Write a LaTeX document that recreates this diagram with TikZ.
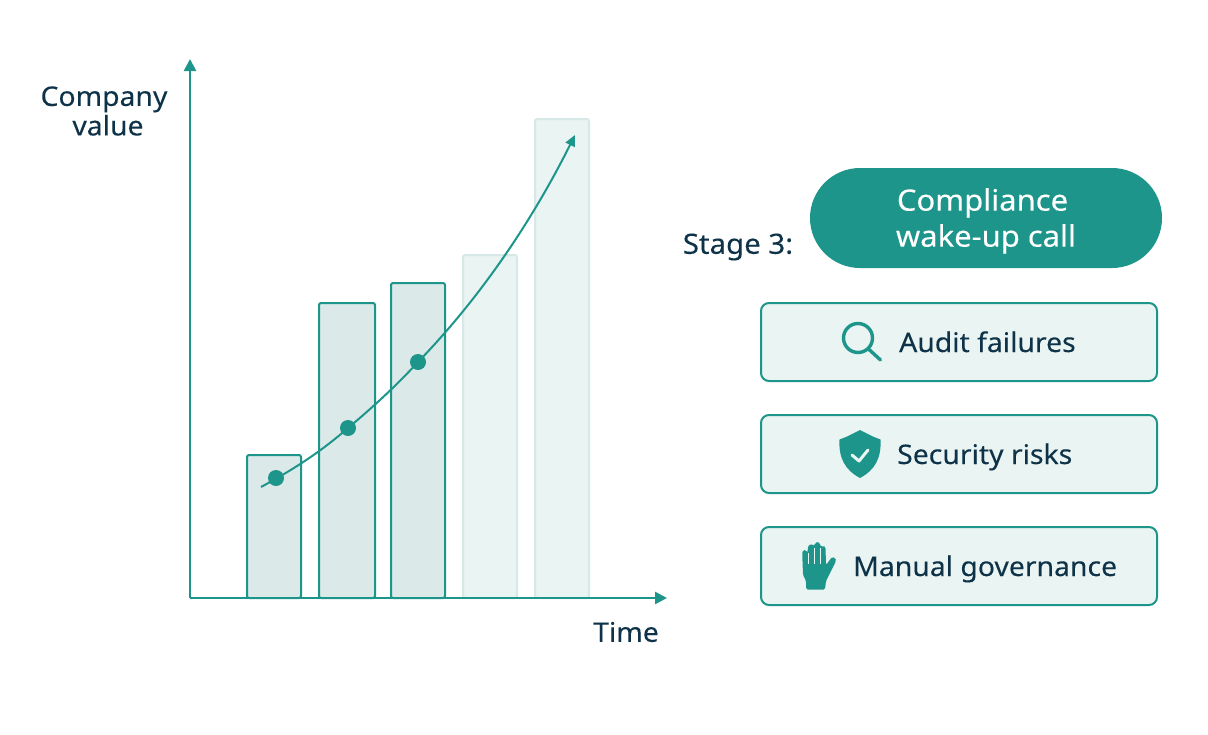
\documentclass[tikz,border=0pt]{standalone}
\usepackage{fontspec}
\setmainfont[FakeStretch=1.05,FakeBold=0.15]{Noto Sans}
\usetikzlibrary{arrows.meta,calc}
\definecolor{teal1}{HTML}{1E958B}
\definecolor{barfill}{HTML}{DBE9E8}
\definecolor{fadefill}{HTML}{EAF4F2}
\definecolor{fadeline}{HTML}{D6E9E7}
\definecolor{ink}{HTML}{0E3349}
\tikzset{
  txt/.style={text=ink,font=\fontsize{27}{30}\selectfont,align=center,inner sep=0pt},
  axisline/.style={draw=teal1,line width=2.6pt,-{Triangle[length=12pt,width=12pt]}},
  solidbar/.style={draw=teal1,fill=barfill,line width=2pt,rounded corners=2pt},
  fadebar/.style={draw=fadeline,fill=fadefill,line width=2pt,rounded corners=2pt},
  card/.style={draw=teal1,fill=fadefill,line width=2pt,rounded corners=8pt},
  dot/.style={circle,fill=teal1,minimum size=16pt,inner sep=0pt},
}
\begin{document}
\begin{tikzpicture}[x=1pt,y=-1pt]
\useasboundingbox (0,0) rectangle (1208,734);
% bars
\draw[solidbar] (247,598) rectangle (301,455);
\draw[solidbar] (319,598) rectangle (375,303);
\draw[solidbar] (391,598) rectangle (445,283);
\draw[fadebar] (463,598) rectangle (517,255);
\draw[fadebar] (535,598) rectangle (589,119);
% axes
\coordinate (origin) at (190,598);
\coordinate (ytip) at (190,59);
\coordinate (xtip) at (667,598);
\draw[axisline] (origin) -- (ytip);
\draw[axisline] (origin) -- (xtip);
% curve
\coordinate (cstart) at (261,487);
\coordinate (cend) at (575,135);
\node[dot] (d1) at (276,478) {};
\node[dot] (d2) at (348,428) {};
\node[dot] (d3) at (418,362) {};
\draw[teal1,line width=2pt,-{Triangle[length=11pt,width=10pt]}]
  (cstart) .. controls (300,466) and (325,448) .. (d2.center)
  .. controls (372,408) and (397,385) .. (d3.center)
  .. controls (478,300) and (530,225) .. (cend);
% labels
\node[txt] (ylab) at (104,111) {Company\\[-0.5pt]\hspace*{8pt}value};
\node[txt] (xlab) at (626,632) {Time};
\node[txt,font=\fontsize{28}{30}\selectfont] (stage) at (738,247) {Stage 3:};
% pill
\node[fill=teal1,rounded corners=50pt,minimum width=352pt,minimum height=100pt,inner sep=0pt] (pill) at (986,218) {};
\node[inner sep=0pt,text=white,font=\fontsize{29.5}{36}\selectfont,align=center] (pilltext) at (986,221) {Compliance\hspace*{7pt}\\wake-up call};
% cards
\node[card,minimum width=396pt,minimum height=78pt] (c1) at (959,342) {};
\node[card,minimum width=396pt,minimum height=78pt] (c2) at (959,454) {};
\node[card,minimum width=396pt,minimum height=78pt] (c3) at (959,566) {};
\node[txt,anchor=base west] (t1) at (899,352) {Audit failures};
\node[txt,anchor=base west] (t2) at (897,464) {Security risks};
\node[txt,anchor=base west] (t3) at (853,576) {Manual governance};
% magnifier
\draw[teal1,line width=3.4pt] (858,338) circle (14.5pt);
\draw[teal1,line width=3.4pt,line cap=round] (868.5,349) -- (880.5,360);
% shield
\fill[teal1] (860,430) .. controls (866,433) and (873,437) .. (880.5,439.5)
  .. controls (881.5,458) and (875,470) .. (860,478)
  .. controls (845,470) and (838.5,458) .. (839.5,439.5)
  .. controls (847,437) and (854,433) .. (860,430) -- cycle;
\draw[fadefill,line width=3pt,line cap=round,line join=round] (852,455) -- (859,461) -- (868,450);
% hand
\fill[teal1,rounded corners=1.5pt] (806,589.5) -- (806,581) -- (803,575) -- (802.2,553) -- (803,550) -- (806,550) -- (807.5,553)
  -- (808,546) -- (810.5,544) -- (813.5,545) -- (814.5,546) -- (815,543) -- (817.5,541.8) -- (820,543) -- (820.5,547)
  -- (823,545.5) -- (825.5,547) -- (826,565) -- (832,557) -- (835.5,558) -- (836,561) -- (826,581) -- (825,589.5) -- cycle;
\draw[fadefill,line width=0.5pt] (807.8,553) -- (807.8,564);
\draw[fadefill,line width=0.5pt] (814.3,548) -- (814.3,564);
\draw[fadefill,line width=0.5pt] (820.6,548) -- (820.6,564);
\end{tikzpicture}
\end{document}
